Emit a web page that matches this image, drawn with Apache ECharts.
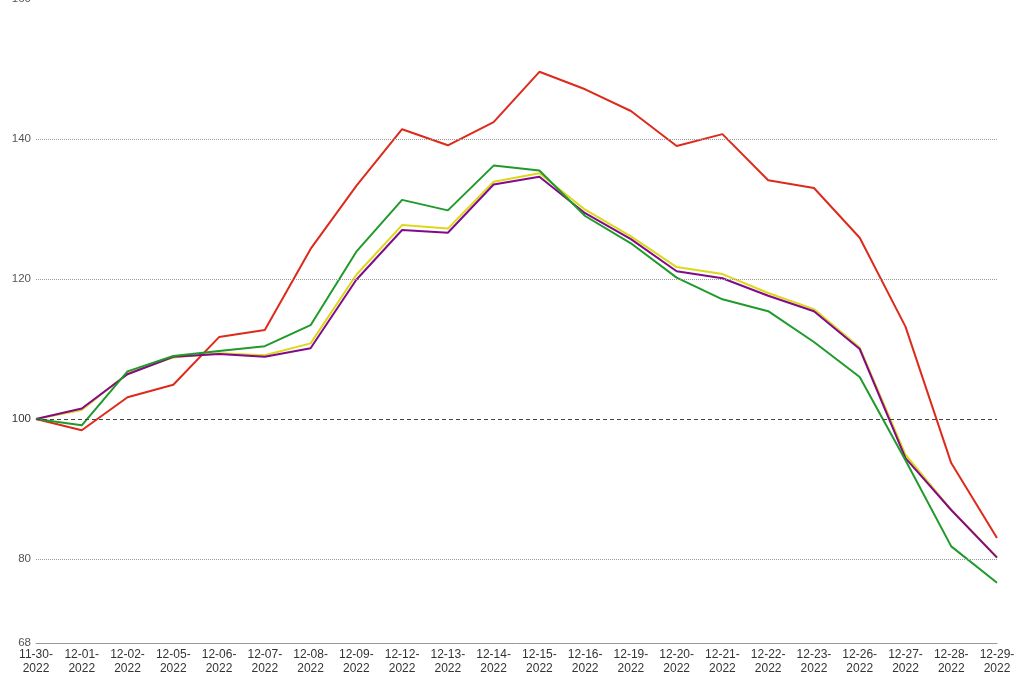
<!DOCTYPE html>
<html>
<head>
<meta charset="utf-8">
<script src="https://cdn.jsdelivr.net/npm/echarts@6/dist/echarts.min.js"></script>
<style>html,body{margin:0;padding:0;background:#fff}#c{width:1017px;height:675px}</style>
</head>
<body>
<div id="c"></div>
<script>
const categories = ['11-30-2022','12-01-2022','12-02-2022','12-05-2022','12-06-2022','12-07-2022','12-08-2022','12-09-2022','12-12-2022','12-13-2022','12-14-2022','12-15-2022','12-16-2022','12-19-2022','12-20-2022','12-21-2022','12-22-2022','12-23-2022','12-26-2022','12-27-2022','12-28-2022','12-29-2022'];
const redValues    = [100, 98.4, 103.1, 104.9, 111.7, 112.7, 124.3, 133.3, 141.4, 139.1, 142.4, 149.6, 147.1, 144.0, 139.0, 140.7, 134.1, 133.0, 125.9, 113.2, 93.7, 83.0];
const greenValues  = [100, 99.1, 106.8, 109.0, 109.7, 110.4, 113.4, 123.9, 131.3, 129.8, 136.2, 135.5, 129.0, 125.1, 120.2, 117.1, 115.4, 111.0, 106.0, 94.1, 81.8, 76.6];
const yellowValues = [100, 101.3, 106.5, 108.8, 109.4, 109.1, 110.8, 120.6, 127.7, 127.2, 133.9, 135.1, 129.9, 126.1, 121.7, 120.7, 118.0, 115.7, 110.2, 94.9, 87.0, 80.3];
const purpleValues = [100, 101.5, 106.4, 108.9, 109.3, 108.9, 110.1, 119.9, 127.0, 126.6, 133.5, 134.6, 129.4, 125.7, 121.1, 120.1, 117.6, 115.4, 110.0, 94.4, 87.0, 80.2];
const yTickLabels = [68, 80, 100, 120, 140, 160];
const dottedLines = [80, 120, 140];
const baseLine = 100;

const chart = echarts.init(document.getElementById('c'));
const mk = (name, data, color, extra) => Object.assign({
  name, type: 'line', data, symbol: 'none', smooth: false,
  lineStyle: { color, width: 2 }, itemStyle: { color }, animation: false
}, extra || {});

chart.setOption({
  animation: false,
  grid: { left: 36, right: 20, top: -1, bottom: 32, containLabel: false, outerBoundsMode: 'none' },
  xAxis: {
    type: 'category', data: categories, boundaryGap: false,
    axisLine: { show: true, lineStyle: { color: '#999', width: 1 } },
    axisTick: { show: false },
    axisLabel: {
      interval: 0, color: '#333', fontSize: 12, fontFamily: 'Liberation Sans, Arial, sans-serif',
      lineHeight: 14, margin: 5,
      formatter: v => v.slice(0, 6) + '\n' + v.slice(6)
    },
    splitLine: { show: false }
  },
  yAxis: {
    type: 'value', min: 68, max: 160, interval: 4,
    axisLine: { show: false }, axisTick: { show: false }, splitLine: { show: false },
    axisLabel: {
      color: '#555', fontSize: 11.5, fontFamily: 'Liberation Sans, Arial, sans-serif', margin: 5,
      formatter: v => yTickLabels.indexOf(v) >= 0 ? (v === baseLine ? '{b|' + v + '}' : String(v)) : '',
      rich: { b: { color: '#333', fontSize: 11.5, fontFamily: 'Liberation Sans, Arial, sans-serif' } }
    }
  },
  series: [
    mk('red', redValues, '#dd2a1b', {
      markLine: {
        silent: true, symbol: 'none', label: { show: false }, animation: false,
        data: dottedLines.map(v => ({ yAxis: v, lineStyle: { color: '#999', type: 'dotted', width: 1 } }))
          .concat([{ yAxis: baseLine, lineStyle: { color: '#444', type: [4, 3], width: 1 } }])
      }
    }),
    mk('yellow', yellowValues, '#dcd81a'),
    mk('purple', purpleValues, '#820a8a'),
    mk('green', greenValues, '#1f9a2b')
  ]
});
</script>
</body>
</html>
